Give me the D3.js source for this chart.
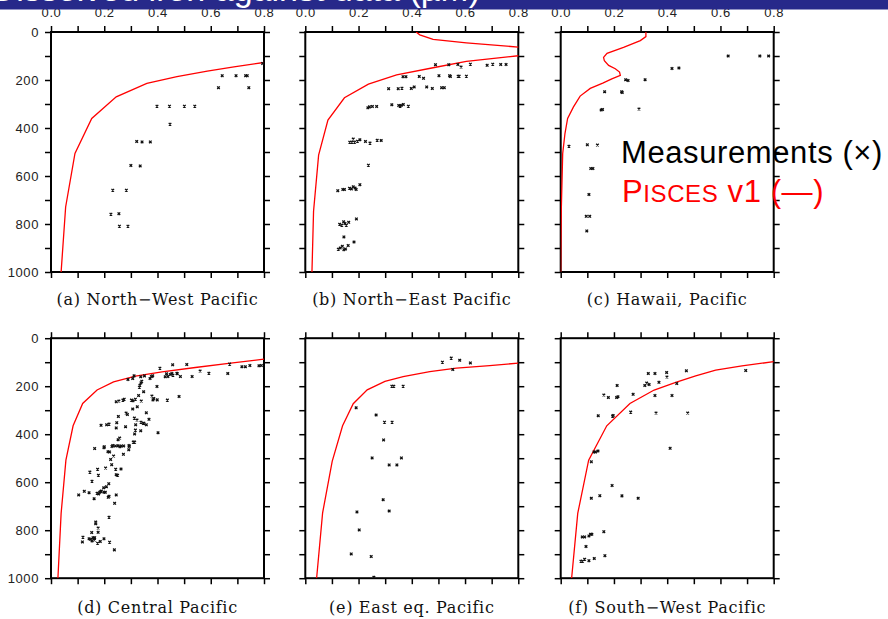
<!DOCTYPE html>
<html lang="en">
<head>
    <meta charset="UTF-8">
    <title>Dissolved iron profiles, Pacific</title>
    <script src="https://d3js.org/d3.v7.min.js"></script>
    <style>
        body { margin: 0; background: #fff; }
        .tick line { stroke: #000; stroke-width: 1.5px; }
        .tick text { font-family: "Liberation Sans", Arial, sans-serif; font-size: 13px; fill: #222; letter-spacing: 0.6px; }
        .frame { fill: none; stroke: #000; stroke-width: 2px; }
        .model { fill: none; stroke: #ff0000; stroke-width: 1.3px; }
        .obs { stroke: #111; stroke-width: 1.3px; fill: none; }
        .caption { font-family: "DejaVu Serif", serif; font-size: 16px; fill: #111; letter-spacing: 0.7px; }
    </style>
</head>
<body>
    <svg width="888" height="619"></svg>
    <script>
        // depth in m, iron value on x axis
        const captions = ["(a) North\u2212West Pacific", "(b) North\u2212East Pacific", "(c) Hawaii, Pacific",
                          "(d) Central Pacific", "(e) East eq. Pacific", "(f) South\u2212West Pacific"];
        const xTicks = [0, 0.1, 0.2, 0.3, 0.4, 0.5, 0.6, 0.7, 0.8];
        const yTicks = [0, 100, 200, 300, 400, 500, 600, 700, 800, 900, 1000];

        // PISCES v1 model profiles [value, depth]
        const modelA = [[0.8,127],[0.687,145],[0.587,163],[0.473,186],[0.36,214],[0.245,270],[0.153,360],[0.09,506],[0.055,729],[0.038,1000]];
        const modelB = [[0.416,0],[0.43,12],[0.48,31],[0.605,45],[0.8,63],[1.0,81],[0.8,99],[0.605,122],[0.48,149],[0.343,179],[0.237,217],[0.147,274],[0.085,367],[0.05,513],[0.031,747],[0.025,1000]];
        const modelC = [[0.32,0],[0.32,19],[0.299,36],[0.236,64],[0.174,89],[0.161,106],[0.164,120],[0.18,139],[0.205,153],[0.221,167],[0.224,181],[0.192,195],[0.158,213],[0.111,235],[0.073,267],[0.048,312],[0.026,360],[0.016,423],[0.0075,506],[0.0025,729],[0,1000]];
        const modelD = [[0.8,87],[0.667,105],[0.542,122],[0.417,140],[0.317,158],[0.235,182],[0.173,216],[0.119,272],[0.083,365],[0.056,508],[0.038,730],[0.026,1000]];
        const modelE = [[0.8,104],[0.6925,114],[0.5675,125],[0.4675,139],[0.3675,160],[0.299,180],[0.2325,215],[0.18,273],[0.14,365],[0.101,513],[0.065,728],[0.0425,1000]];
        const modelF = [[0.8,98],[0.681,115],[0.582,133],[0.507,157],[0.432,184],[0.351,216],[0.26,272],[0.173,365],[0.105,508],[0.064,730],[0.041,1000]];

        // measurements [value, depth]
        const obsA = [[0.795,131],[0.643,182],[0.695,182],[0.731,182],[0.737,182],[0.629,232],[0.743,232],[0.398,309],[0.445,309],[0.501,309],[0.54,309],[0.447,384],[0.322,456],[0.342,458],[0.373,458],[0.30,556],[0.335,558],[0.232,659],[0.283,659],[0.225,759],[0.255,757],[0.257,809],[0.289,809]];
        const obsB = [[0.489,136],[0.539,136],[0.573,135],[0.585,146],[0.620,134],[0.683,139],[0.704,134],[0.734,135],[0.754,135],
                      [0.367,186],[0.378,186],[0.428,185],[0.444,193],[0.502,182],[0.542,182],[0.545,185],[0.574,184],[0.578,184],[0.605,184],
                      [0.313,236],[0.349,236],[0.363,234],[0.398,235],[0.409,229],[0.456,229],[0.477,235],[0.512,232],[0.522,232],
                      [0.235,316],[0.241,312],[0.252,310],[0.268,310],[0.325,303],[0.351,306],[0.356,309],[0.36,306],[0.368,302],[0.387,309],
                      [0.167,459],[0.175,459],[0.18,446],[0.185,459],[0.196,455],[0.205,449],[0.226,456],[0.243,463],[0.27,451],[0.285,452],
                      [0.237,555],
                      [0.122,661],[0.141,656],[0.147,656],[0.166,651],[0.173,654],[0.18,645],[0.187,650],[0.191,656],[0.205,636],
                      [0.129,801],[0.137,805],[0.144,791],[0.149,798],[0.154,805],[0.163,793],[0.192,779],[0.145,854],
                      [0.124,905],[0.131,900],[0.139,893],[0.145,907],[0.151,904],[0.161,890],[0.183,875]];
        const obsC = [[0.629,100],[0.748,100],[0.781,100],[0.418,152],[0.444,150],[0.244,199],[0.253,202],[0.317,199],[0.165,249],[0.229,249],[0.231,252],
                      [0.152,325],[0.157,323],[0.294,321],[0.031,476],[0.10,470],[0.138,471],[0.113,569],[0.121,569],[0.106,677],[0.096,768],[0.109,768],[0.098,829]];
        const obsD = [[0.409,125],[0.457,111],[0.510,110],[0.560,137],[0.593,146],[0.664,147],[0.671,108],[0.717,119],[0.730,119],[0.747,114],[0.781,115],[0.790,114],
                      [0.429,161],[0.434,148],[0.439,160],[0.448,151],[0.454,147],[0.458,154],[0.473,146],[0.474,148],[0.486,160],[0.530,160],
                      [0.289,172],[0.307,168],[0.312,157],[0.337,161],[0.351,157],[0.372,168],[0.377,160],[0.382,157],
                      [0.334,196],[0.338,186],[0.341,179],[0.332,204],[0.398,201],[0.348,223],[0.329,239],[0.339,262],[0.308,261],[0.302,258],[0.317,254],
                      [0.324,286],[0.307,295],[0.275,254],[0.270,258],[0.255,262],[0.245,265],[0.379,241],[0.383,257],[0.386,251],[0.399,257],[0.437,258],[0.481,243],
                      [0.358,311],[0.282,312],[0.287,318],[0.253,326],[0.247,352],[0.218,358],[0.188,363],[0.209,361],[0.280,369],[0.245,374],
                      [0.313,333],[0.318,361],[0.323,341],[0.338,350],[0.347,355],[0.349,354],[0.358,361],[0.368,338],
                      [0.402,394],[0.317,383],[0.337,386],[0.314,399],[0.258,416],[0.252,423],[0.309,433],[0.314,433],
                      [0.164,460],[0.200,452],[0.199,456],[0.214,473],[0.220,474],[0.229,451],[0.232,447],[0.242,449],[0.252,448],[0.259,452],[0.264,449],[0.273,449],[0.293,447],[0.294,451],[0.292,465],
                      [0.235,491],[0.224,505],[0.272,484],[0.228,527],[0.205,541],[0.243,546],[0.263,545],[0.175,546],[0.146,558],[0.178,571],[0.245,569],[0.250,571],
                      [0.154,596],[0.217,606],[0.208,619],[0.198,623],[0.189,637],[0.187,639],[0.173,646],[0.179,649],[0.183,642],[0.199,642],[0.204,642],[0.143,644],[0.125,638],
                      [0.245,653],[0.218,659],[0.215,663],[0.162,669],[0.104,653],[0.239,688],[0.218,746],
                      [0.168,766],[0.168,773],[0.177,791],[0.153,810],[0.177,809],[0.120,829],[0.143,836],[0.149,838],[0.158,831],[0.162,835],[0.164,831],[0.163,841],
                      [0.154,845],[0.118,849],[0.175,854],[0.185,847],[0.199,836],[0.220,850],[0.238,882]];
        const obsE = [[0.515,100],[0.548,83],[0.58,92],[0.62,103],[0.554,130],[0.325,200],[0.3325,200],[0.3675,200],[0.191,290],[0.266,320],[0.2975,350],[0.326,350],
                      [0.294,424],[0.251,499],[0.361,499],[0.315,528],[0.344,528],[0.2925,673],[0.194,724],[0.315,720],[0.2025,799],[0.1725,899],[0.2475,910],[0.2575,996]];
        const obsF = [[0.329,147],[0.354,147],[0.398,143],[0.399,162],[0.472,136],[0.695,135],[0.323,187],[0.316,197],[0.332,193],[0.369,184],[0.436,189],[0.212,197],
                      [0.162,237],[0.179,247],[0.21,247],[0.215,244],[0.272,234],[0.354,239],[0.418,239],[0.141,323],[0.195,325],[0.197,322],[0.263,308],[0.358,312],[0.477,312],
                      [0.411,459],[0.125,474],[0.131,474],[0.140,470],[0.115,515],[0.193,614],[0.147,656],[0.115,667],[0.23,657],[0.291,667],
                      [0.162,806],[0.081,828],[0.09,828],[0.106,824],[0.112,817],[0.117,817],[0.095,868],[0.09,921],[0.106,927],[0.126,918],[0.166,906],[0.076,929],[0.082,929]];

        const models = [modelA, modelB, modelC, modelD, modelE, modelF];
        const measurements = [obsA, obsB, obsC, obsD, obsE, obsF];

        const svg = d3.select("svg");
        const colLeft = [51, 305.3, 560.7];
        const rowTop = [32, 338.2];
        const pw = 213, ph = 240;

        const x = d3.scaleLinear().domain([0, 0.8]).range([0, pw]);
        const y = d3.scaleLinear().domain([0, 1000]).range([0, ph]);

        const line = d3.line().x(d => x(d[0])).y(d => y(d[1]));

        captions.forEach((cap, i) => {
            const col = i % 3, row = Math.floor(i / 3);
            const g = svg.append("g").attr("transform", `translate(${colLeft[col]},${rowTop[row]})`);

            g.append("clipPath").attr("id", "clip" + i)
                .append("rect").attr("width", pw).attr("height", ph);

            // axes on all four sides, ticks pointing outward
            const top = g.append("g").call(d3.axisTop(x).tickValues(xTicks).tickSize(6).tickPadding(9)
                .tickFormat(d => (row === 0 && Math.round(d * 10) % 2 === 0) ? d3.format(".1f")(d) : ""));
            const bottom = g.append("g").attr("transform", `translate(0,${ph})`)
                .call(d3.axisBottom(x).tickValues(xTicks).tickSize(6).tickFormat(""));
            const left = g.append("g").call(d3.axisLeft(y).tickValues(yTicks).tickSize(6).tickPadding(6)
                .tickFormat(d => (col === 0 && d % 200 === 0) ? d : ""));
            const right = g.append("g").attr("transform", `translate(${pw},0)`)
                .call(d3.axisRight(y).tickValues(yTicks).tickSize(6).tickFormat(""));
            [top, bottom, left, right].forEach(a => a.select(".domain").remove());

            g.append("rect").attr("class", "frame").attr("width", pw).attr("height", ph);

            const inner = g.append("g").attr("clip-path", `url(#clip${i})`);
            inner.append("path").attr("class", "model").attr("d", line(models[i]));

            inner.selectAll("path.obs").data(measurements[i]).enter().append("path")
                .attr("class", "obs")
                .attr("d", d => {
                    const px = x(d[0]), py = y(d[1]), s = 1.3;
                    return `M${px - s},${py - s}L${px + s},${py + s}M${px - s},${py + s}L${px + s},${py - s}`;
                });

            g.append("text").attr("class", "caption")
                .attr("x", pw / 2).attr("y", ph + (row === 0 ? 33 : 35))
                .attr("text-anchor", "middle")
                .text(cap);
        });

        // slide title bar, cut at the top of the picture
        svg.append("rect").attr("x", 0).attr("y", 0).attr("width", 888).attr("height", 9.5).attr("fill", "#27298a");
        svg.append("text").attr("x", 480).attr("y", 1).attr("text-anchor", "end")
            .attr("font-family", "Liberation Sans, Arial, sans-serif").attr("font-size", 34).attr("fill", "#fff")
            .text("Dissolved iron against data (\u00b5M)");

        // legend
        const leg = svg.append("g").attr("font-family", "Liberation Sans, Arial, sans-serif").attr("letter-spacing", "0.6px");
        leg.append("text").attr("x", 621).attr("y", 163).attr("font-size", 31).attr("fill", "#000")
            .text("Measurements (\u00d7)");
        const red = leg.append("text").attr("x", 622).attr("y", 202).attr("font-size", 31).attr("fill", "#ff0000");
        red.append("tspan").text("P");
        red.append("tspan").attr("font-size", 24).text("ISCES");
        red.append("tspan").text(" v1 (\u2014)");
    </script>
</body>
</html>
